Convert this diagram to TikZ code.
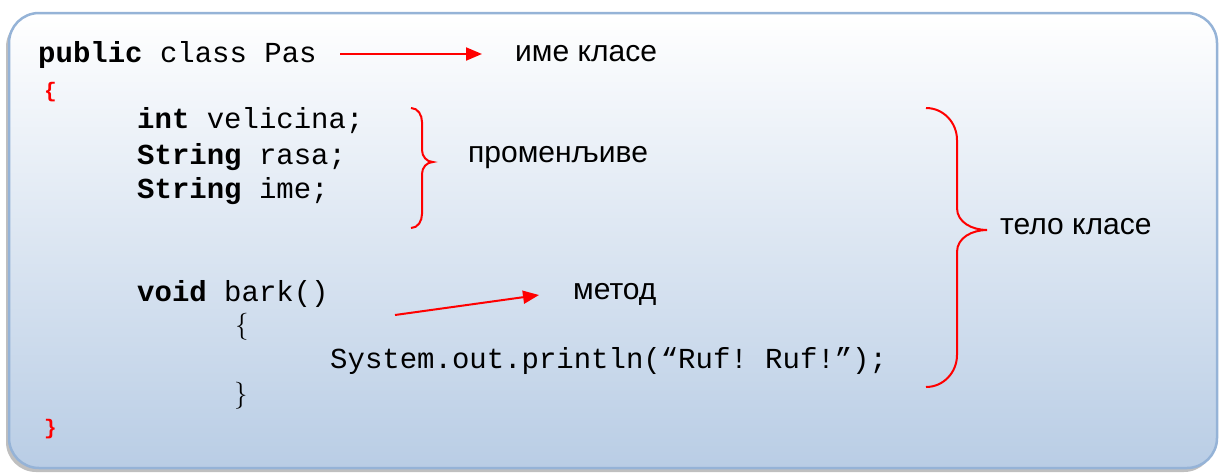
\documentclass[tikz,border=0pt]{standalone}
\usepackage{fontspec}
\setmonofont{Liberation Mono}
\newfontfamily\labelfont{Liberation Sans}
\usetikzlibrary{arrows.meta}
\definecolor{frameblue}{HTML}{95B3D7}
\definecolor{fillbottom}{HTML}{B9CDE5}
\definecolor{codered}{HTML}{FF0000}
\tikzset{
  code/.style={anchor=base west, inner sep=0pt, font=\fontsize{29}{29}\selectfont\ttfamily},
  redbrace/.style={anchor=base west, inner sep=0pt, text=codered, font=\fontsize{21}{21}\selectfont\ttfamily\bfseries},
  thinbrace/.style={anchor=base west, inner sep=0pt, font=\fontsize{27}{27}\selectfont\rmfamily},
  label/.style={anchor=west, inner sep=0pt, font=\fontsize{30}{30}\selectfont\labelfont},
  pointer/.style={draw=codered, line width=2pt, -{Triangle[length=16pt,width=13pt]}},
  curly/.style={draw=codered, line width=2pt},
}
\begin{document}
\begin{tikzpicture}[x=1pt,y=-1pt]
\useasboundingbox (0,0) rectangle (1219,472);
% panel with a soft shadow
\fill[black, opacity=0.25, rounded corners=30pt] (6,17) rectangle (1214,472);
\shade[top color=white, bottom color=fillbottom, rounded corners=30pt] (9,13) rectangle (1217,468);
\draw[frameblue, line width=2.5pt, rounded corners=30pt] (9,13) rectangle (1217,468);

% class source
\node[code] (l1) at (38,62) {\textbf{public} class Pas};
\node[redbrace] (l2) at (44,97) {\{};
\node[code] (l3) at (137,128) {\textbf{int} velicina;};
\node[code] (l4) at (137,164) {\textbf{String} rasa;};
\node[code] (l5) at (137,198) {\textbf{String} ime;};
\node[code] (l6) at (137,301) {\textbf{void} bark()};
\node[thinbrace] (l7) at (235,333) {\{};
\node[code] (l8) at (330,368) {System.out.println(“Ruf! Ruf!”);};
\node[thinbrace] (l9) at (234,402) {\}};
\node[redbrace] (l10) at (44,434) {\}};

% annotations
\node[label] (cname) at (515,54) {име класе};
\node[label] (vars) at (468,158) {променљиве};
\node[label] (body) at (1000,227) {тело класе};
\node[label] (meth) at (573,294) {метод};

\coordinate (a1s) at (340,54);
\coordinate (a1e) at (482,54);
\coordinate (a2s) at (395,315);
\coordinate (a2e) at (539,295);
\draw[pointer] (a1s) -- (a1e);
\draw[pointer] (a2s) -- (a2e);

% brace around the fields
\draw[curly] (411,108) to[out=0,in=90] (422,122) -- (422,150)
  to[out=-90,in=180] (433,162) to[out=180,in=90] (422,174) -- (422,214)
  to[out=-90,in=0] (411,228);
% brace around the class body
\draw[curly] (926,108) to[out=0,in=90] (957,140) -- (957,208)
  to[out=-90,in=180] (987,230) to[out=180,in=90] (957,252) -- (957,355)
  to[out=-90,in=0] (926,387);
\end{tikzpicture}
\end{document}
